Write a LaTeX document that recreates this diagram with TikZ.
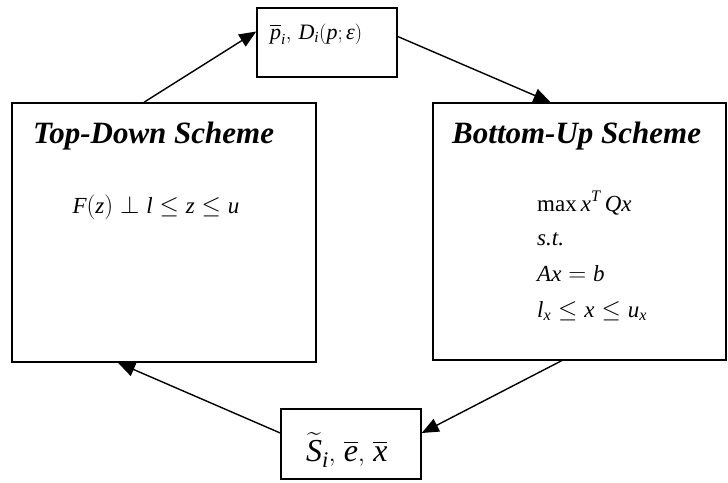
\documentclass[tikz,border=0pt]{standalone}
\usepackage{amsmath}
\usepackage{fontspec}
\setmainfont{Liberation Serif}
\usetikzlibrary{arrows.meta}
\newcommand\mv[1]{\text{\itshape #1}}
\begin{document}
\begin{tikzpicture}[x=1pt,y=-1pt,
  box/.style={draw, line width=1.5pt, rectangle, inner sep=0pt},
  conn/.style={line width=1.4pt, -{Triangle[length=17pt,width=14pt]}},
  title/.style={anchor=base west, inner sep=0pt, font=\fontsize{31}{36}\selectfont\bfseries\itshape},
  mathtxt/.style={anchor=base west, inner sep=0pt, font=\fontsize{23}{27}\selectfont}]
\useasboundingbox (0,0) rectangle (728,482);
\node[box, minimum width=140pt, minimum height=69pt] (T) at (327,42.5) {};
\node[box, minimum width=304pt, minimum height=259pt] (L) at (164,232.5) {};
\node[box, minimum width=293pt, minimum height=257pt] (R) at (579.5,231.5) {};
\node[box, minimum width=140pt, minimum height=70pt] (B) at (351,444) {};
% texts
\node[anchor=base west, inner sep=0pt, font=\fontsize{22}{26}\selectfont] (tt) at (270,39)
  {$\overline{\mv{p}}_{\mv{i}},\,\mv{D}_{\mv{i}}(\mv{p};\mv{ε})$};
\node[anchor=base west, inner sep=0pt, font=\fontsize{32}{38}\selectfont] (bt) at (306,461)
  {$\widetilde{\mv{S}}_{\mv{i}},\,\overline{\mv{e}},\,\overline{\mv{x}}$};
\node[title] (lt) at (33,143) {Top-Down Scheme};
\node[title] (rt) at (452,143) {Bottom-Up Scheme};
\node[mathtxt, anchor=base, font=\fontsize{23}{28}\selectfont] (lm) at (156,213)
  {$\mv{F}(\mv{z})\perp \mv{l}\le \mv{z}\le \mv{u}$};
\node[mathtxt] (r1) at (537,211) {$\text{max}\,\mv{x}^{\mv{T}}\,\mv{Qx}$};
\node[mathtxt] (r2) at (537,245) {$\mv{s.t.}$};
\node[mathtxt] (r3) at (537,281) {$\mv{Ax}=\mv{b}$};
\node[mathtxt] (r4) at (537,317) {$\mv{l}_{\mv{x}}\le \mv{x}\le \mv{u}_{\mv{x}}$};
% connectors
\draw[conn] ([xshift=-20pt]L.north) -- ([yshift=11pt]T.west);
\draw[conn] ([yshift=6pt]T.east) -- ([xshift=-29pt]R.north);
\draw[conn] ([xshift=-18pt]R.south) -- ([yshift=11pt]B.east);
\draw[conn] ([yshift=11pt]B.west) -- ([xshift=-46pt]L.south);
\end{tikzpicture}
\end{document}
